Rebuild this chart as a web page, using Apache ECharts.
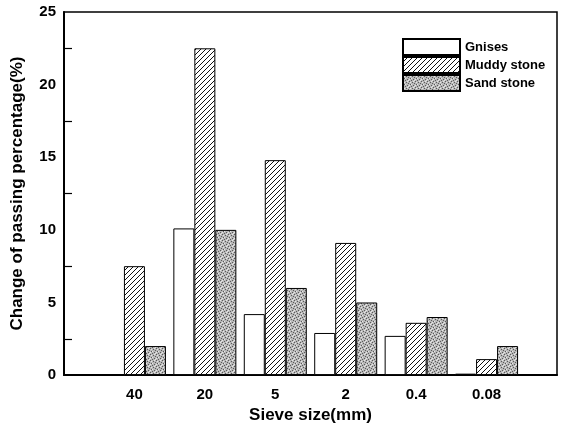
<!DOCTYPE html>
<html>
<head>
<meta charset="utf-8">
<script src="https://cdn.jsdelivr.net/npm/echarts@6/dist/echarts.min.js"></script>
<style>
  html, body { margin: 0; padding: 0; background: #fff; }
  #chart { width: 561px; height: 429px; }
</style>
</head>
<body>
<div id="chart"></div>
<script>
// sieve sizes (mm) on the x axis
var sizes = ['40', '20', '5', '2', '0.4', '0.08'];
// change of passing percentage (%)
var gnises = [0, 10.1, 4.2, 2.9, 2.7, 0.1];
var muddy = [7.5, 22.5, 14.8, 9.1, 3.6, 1.1];
var sand = [2.0, 10.0, 6.0, 5.0, 4.0, 2.0];

// fill textures
function hatchPattern() {
    var c = document.createElement('canvas');
    c.width = c.height = 5;
    var ctx = c.getContext('2d');
    ctx.fillStyle = '#fff';
    ctx.fillRect(0, 0, 5, 5);
    ctx.strokeStyle = '#111';
    ctx.lineWidth = 1;
    ctx.beginPath();
    ctx.moveTo(-1, 6); ctx.lineTo(6, -1);
    ctx.moveTo(-1, 1); ctx.lineTo(1, -1);
    ctx.moveTo(4, 6); ctx.lineTo(6, 4);
    ctx.stroke();
    return c;
}
function stipplePattern() {
    var c = document.createElement('canvas');
    c.width = c.height = 6;
    var ctx = c.getContext('2d');
    ctx.fillStyle = '#b8b8b8';
    ctx.fillRect(0, 0, 6, 6);
    ctx.fillStyle = '#5a5a5a';
    [[0,0],[3,1],[1,3],[4,4],[5,2],[2,5]].forEach(function (p) { ctx.fillRect(p[0], p[1], 1, 1); });
    ctx.fillStyle = '#e6e6e6';
    [[1,1],[4,0],[2,3],[5,5],[0,4]].forEach(function (p) { ctx.fillRect(p[0], p[1], 1, 1); });
    return c;
}

function pad(arr) { return ['-'].concat(arr, ['-']); }

var tickFont = { fontFamily: '"Liberation Sans Narrow", "Liberation Sans", Arial, sans-serif', fontWeight: 'bold', fontSize: 15, color: '#000' };
var nameFont = { fontFamily: '"Liberation Sans", Arial, sans-serif', fontWeight: 'bold', fontSize: 17, color: '#000' };

var chart = echarts.init(document.getElementById('chart'));
chart.setOption({
    animation: false,
    backgroundColor: '#fff',
    grid: { left: 64, right: 4, top: 12, bottom: 47, show: true, borderColor: '#000', borderWidth: 1.5 },
    legend: {
        orient: 'vertical',
        left: 397, top: 33,
        itemWidth: 57, itemHeight: 16, itemGap: 0,
        icon: 'rect',
        textStyle: { fontFamily: '"Liberation Sans", Arial, sans-serif', fontWeight: 'bold', fontSize: 13, color: '#000', lineHeight: 16 },
        data: ['Gnises', 'Muddy stone', 'Sand stone']
    },
    xAxis: {
        type: 'category',
        data: [''].concat(sizes, ['']),
        boundaryGap: false,
        name: 'Sieve size(mm)',
        nameLocation: 'middle',
        nameGap: 31,
        nameTextStyle: nameFont,
        axisLine: { lineStyle: { color: '#000', width: 2 } },
        axisTick: { show: false },
        axisLabel: Object.assign({ margin: 12, interval: 0 }, tickFont),
        splitLine: { show: false }
    },
    yAxis: {
        type: 'value',
        min: 0, max: 25, interval: 5,
        name: 'Change of passing percentage(%)',
        nameLocation: 'middle',
        nameGap: 38,
        nameTextStyle: nameFont,
        axisLine: { show: true, lineStyle: { color: '#000', width: 2 } },
        axisTick: { inside: true, length: 13, lineStyle: { color: '#000', width: 1.5 } },
        minorTick: { show: true, splitNumber: 2, length: 8, lineStyle: { color: '#000', width: 1.2 } },
        axisLabel: Object.assign({ margin: 8 }, tickFont),
        splitLine: { show: false }
    },
    series: [
        { name: 'Gnises', type: 'bar', data: pad(gnises), barWidth: 21, barGap: '0%',
          itemStyle: { color: '#fff', borderColor: '#000', borderWidth: 1 } },
        { name: 'Muddy stone', type: 'bar', data: pad(muddy), barWidth: 21, barGap: '0%',
          itemStyle: { color: { image: hatchPattern(), repeat: 'repeat' }, borderColor: '#000', borderWidth: 1 } },
        { name: 'Sand stone', type: 'bar', data: pad(sand), barWidth: 21, barGap: '0%',
          itemStyle: { color: { image: stipplePattern(), repeat: 'repeat' }, borderColor: '#000', borderWidth: 1 } }
    ]
});
</script>
</body>
</html>
